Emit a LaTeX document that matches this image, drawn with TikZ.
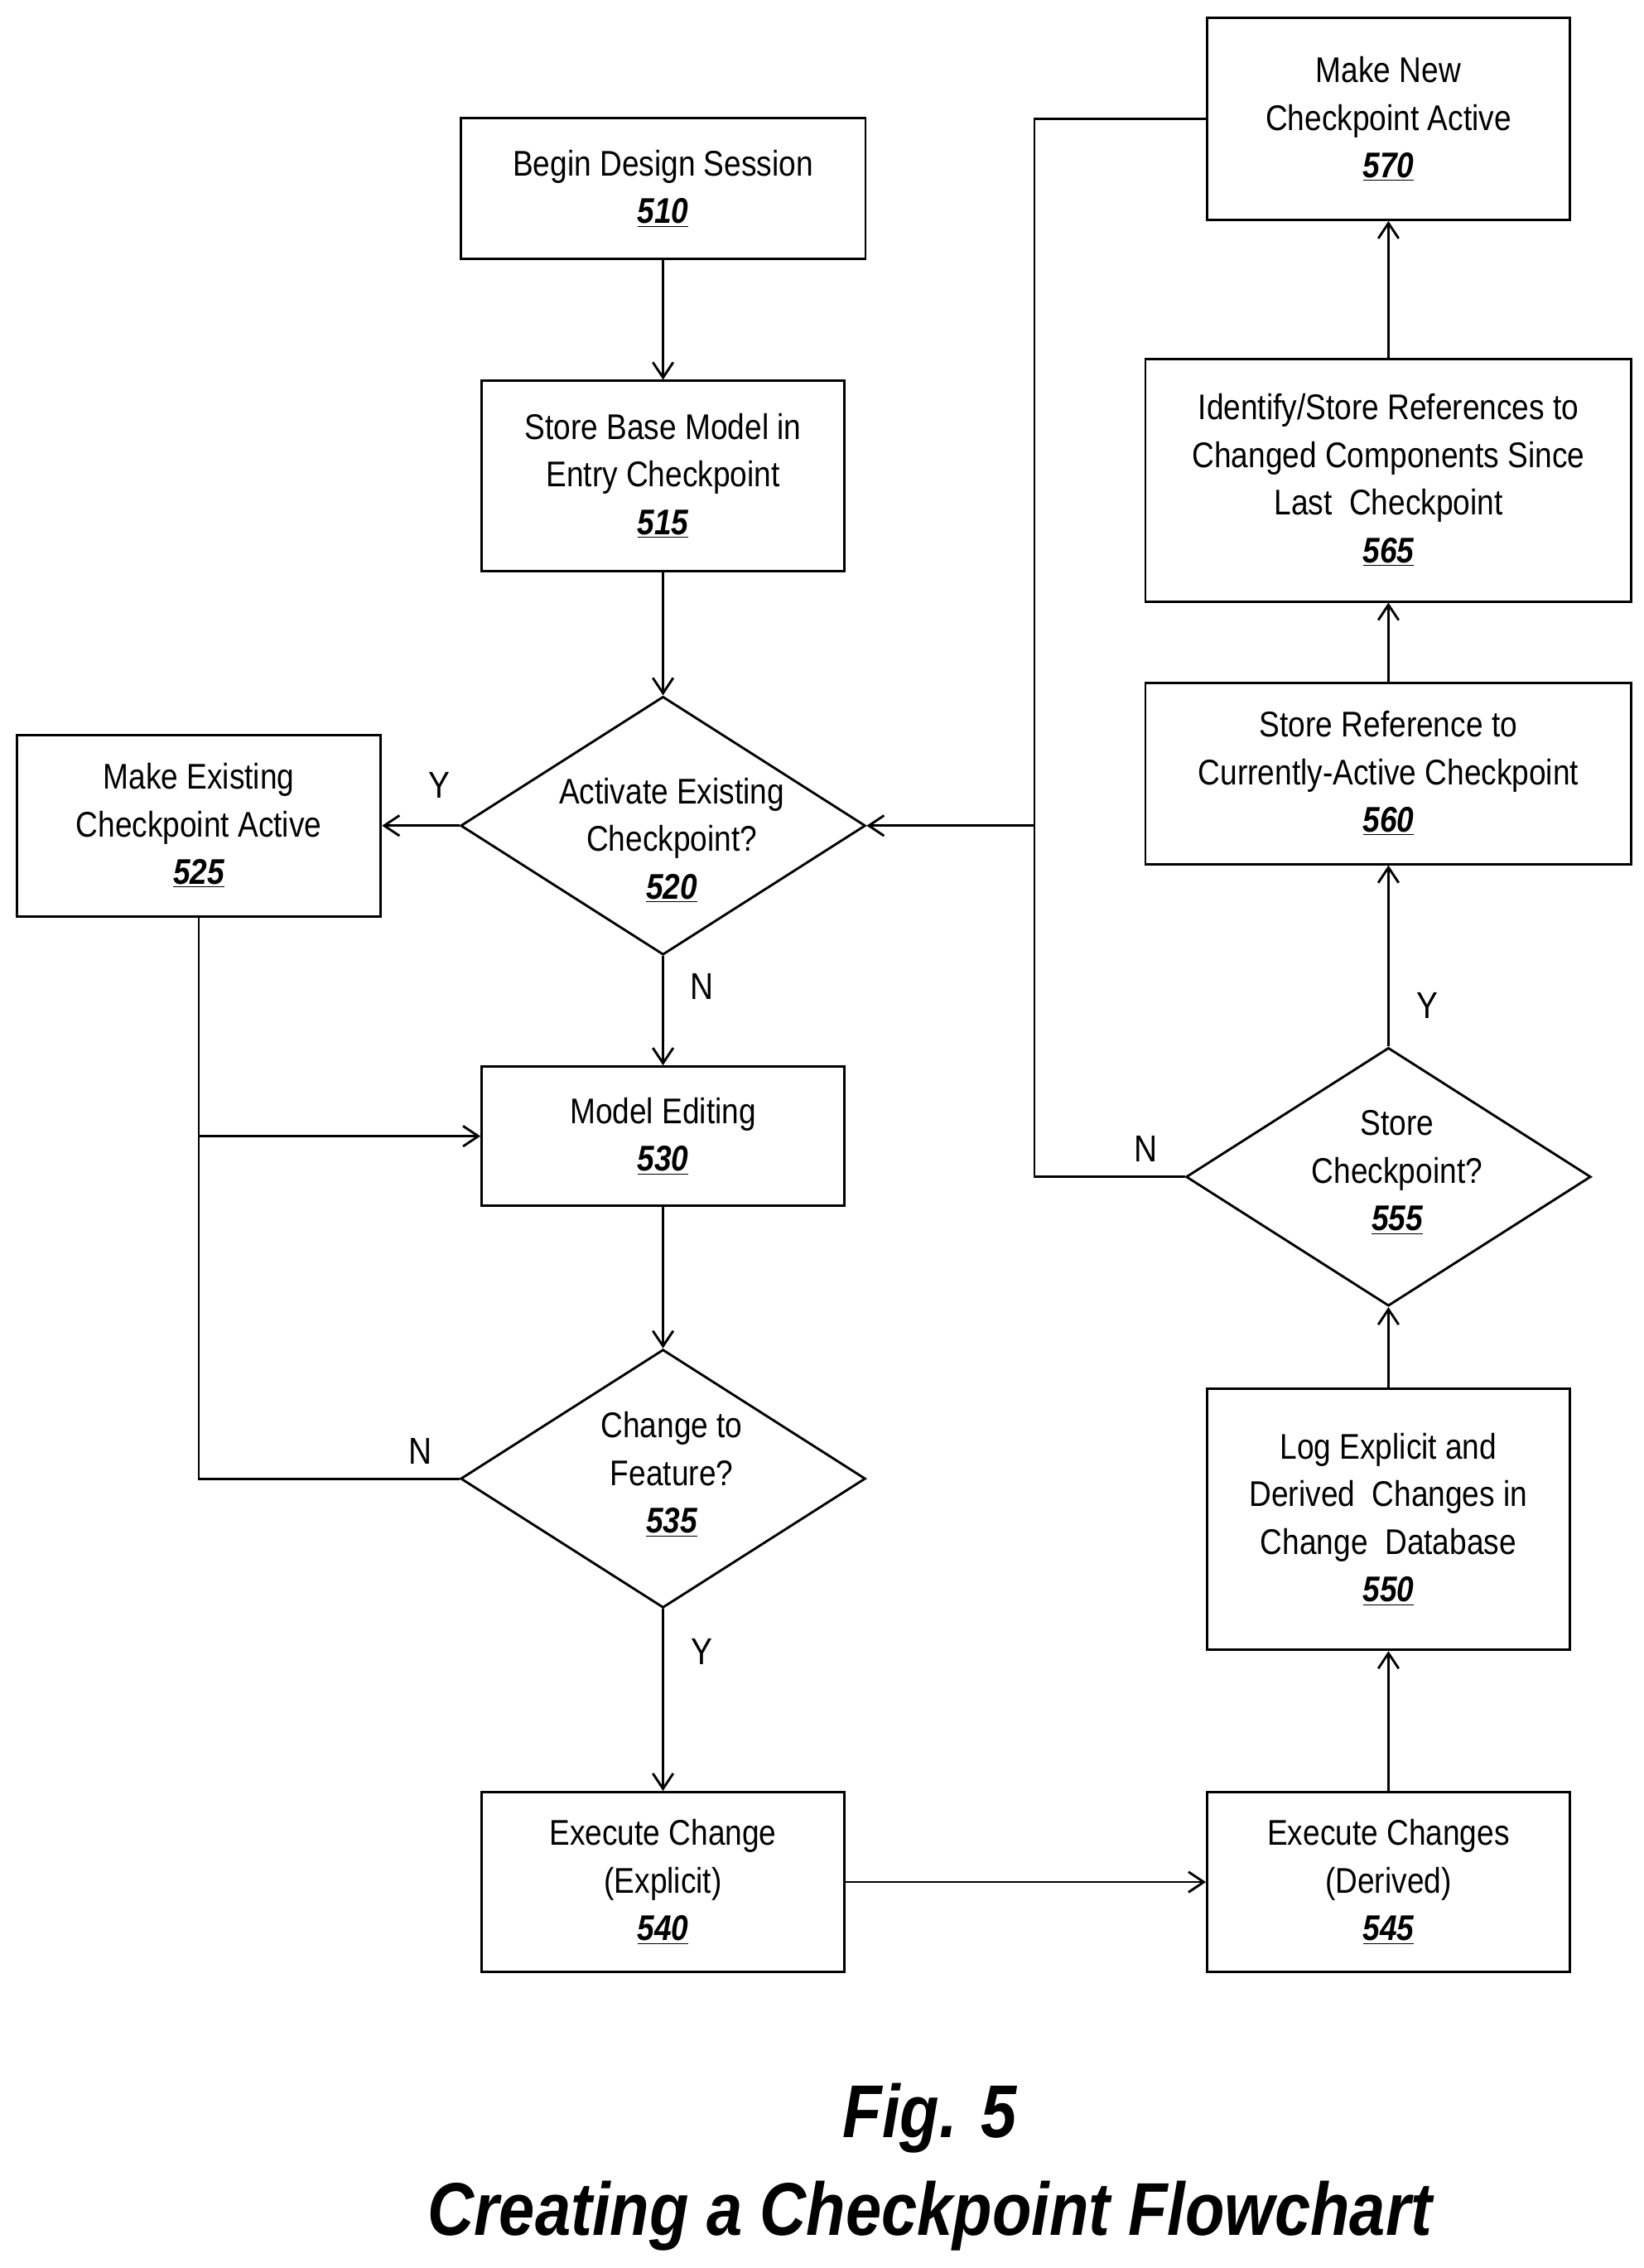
\documentclass[tikz,border=0pt]{standalone}
\usepackage{fontspec}
\setmainfont{Liberation Sans}[FakeStretch=0.86]
\usetikzlibrary{shapes.geometric,arrows.meta}
\newcommand{\nm}[1]{\textbf{\textit{\underline{#1}}}}
\begin{document}
\begin{tikzpicture}[x=0.03cm,y=-0.03cm,
  every node/.style={font=\fontsize{21}{28}\selectfont, align=center},
  box/.style={draw, line width=1.4pt, inner sep=0pt},
  dia/.style={draw, diamond, line width=1.4pt, inner sep=0pt, minimum width=8.37cm, minimum height=5.34cm},
  ar/.style={line width=1.4pt, -{Straight Barb[length=9pt,width=12pt]}},
  ln/.style={line width=1.4pt},
  lab/.style={font=\fontsize{22}{26}\selectfont}]
\useasboundingbox (0,0) rectangle (1133,1563);
\node[box, minimum width=8.37cm, minimum height=2.91cm] (n510) at (457,130) {Begin Design Session\\\nm{510}};
\node[box, minimum width=7.5cm, minimum height=3.93cm] (n515) at (457,328) {Store Base Model in\\Entry Checkpoint\\\nm{515}};
\node[dia] (n520) at (457,569) {};
\node at (463,579) {Activate Existing\\Checkpoint?\\\nm{520}};
\node[box, minimum width=7.53cm, minimum height=3.75cm] (n525) at (137,569) {Make Existing\\Checkpoint Active\\\nm{525}};
\node[box, minimum width=7.5cm, minimum height=2.88cm] (n530) at (457,783) {Model Editing\\\nm{530}};
\node[dia] (n535) at (457,1019) {};
\node at (463,1016) {Change to\\Feature?\\\nm{535}};
\node[box, minimum width=7.5cm, minimum height=3.72cm] (n540) at (457,1297) {Execute Change\\(Explicit)\\\nm{540}};
\node[box, minimum width=7.5cm, minimum height=3.72cm] (n545) at (957,1297) {Execute Changes\\(Derived)\\\nm{545}};
\node[box, minimum width=7.5cm, minimum height=5.4cm] (n550) at (957,1047) {Log Explicit and\\Derived\ \ Changes in\\Change\ \ Database\\\nm{550}};
\node[dia] (n555) at (957,811) {};
\node at (963,808) {Store\\Checkpoint?\\\nm{555}};
\node[box, minimum width=10.05cm, minimum height=3.75cm] (n560) at (957,533) {Store Reference to\\Currently-Active Checkpoint\\\nm{560}};
\node[box, minimum width=10.05cm, minimum height=5.01cm] (n565) at (957,331) {Identify/Store References to\\Changed Components Since\\Last\ \ Checkpoint\\\nm{565}};
\node[box, minimum width=7.5cm, minimum height=4.17cm] (n570) at (957,82) {Make New\\Checkpoint Active\\\nm{570}};
\coordinate (j1) at (713,569);
\coordinate (j2) at (137,783);
\draw[ar] (n510) -- (n515);
\draw[ar] (n515) -- (n520);
\draw[ar] (n520) -- (n525);
\draw[ar] (n520) -- (n530);
\draw[ar] (n530) -- (n535);
\draw[ar] (n535) -- (n540);
\draw[ar] (n540) -- (n545);
\draw[ar] (n545) -- (n550);
\draw[ar] (n550) -- (n555);
\draw[ar] (n555) -- (n560);
\draw[ar] (n560) -- (n565);
\draw[ar] (n565) -- (n570);
\draw[ln] (n570.west) -| (j1);
\draw[ar] (j1) -- (n520.east);
\draw[ln] (n555.west) -| (j1);
\draw[ln] (n525.south) -- (j2);
\draw[ar] (j2) -- (n530.west);
\draw[ln] (n535.west) -| (j2);
\node[lab] at (303,541) {Y};
\node[lab] at (484,680) {N};
\node[lab] at (290,1000) {N};
\node[lab] at (484,1138) {Y};
\node[lab] at (984,693) {Y};
\node[lab] at (790,792) {N};
\node[font=\fontsize{44}{50}\selectfont\bfseries\itshape] (fig) at (641,1460) {Fig. 5};
\node[font=\fontsize{44}{50}\selectfont\bfseries\itshape] (cap) at (641,1527) {Creating a Checkpoint Flowchart};
\end{tikzpicture}
\end{document}
